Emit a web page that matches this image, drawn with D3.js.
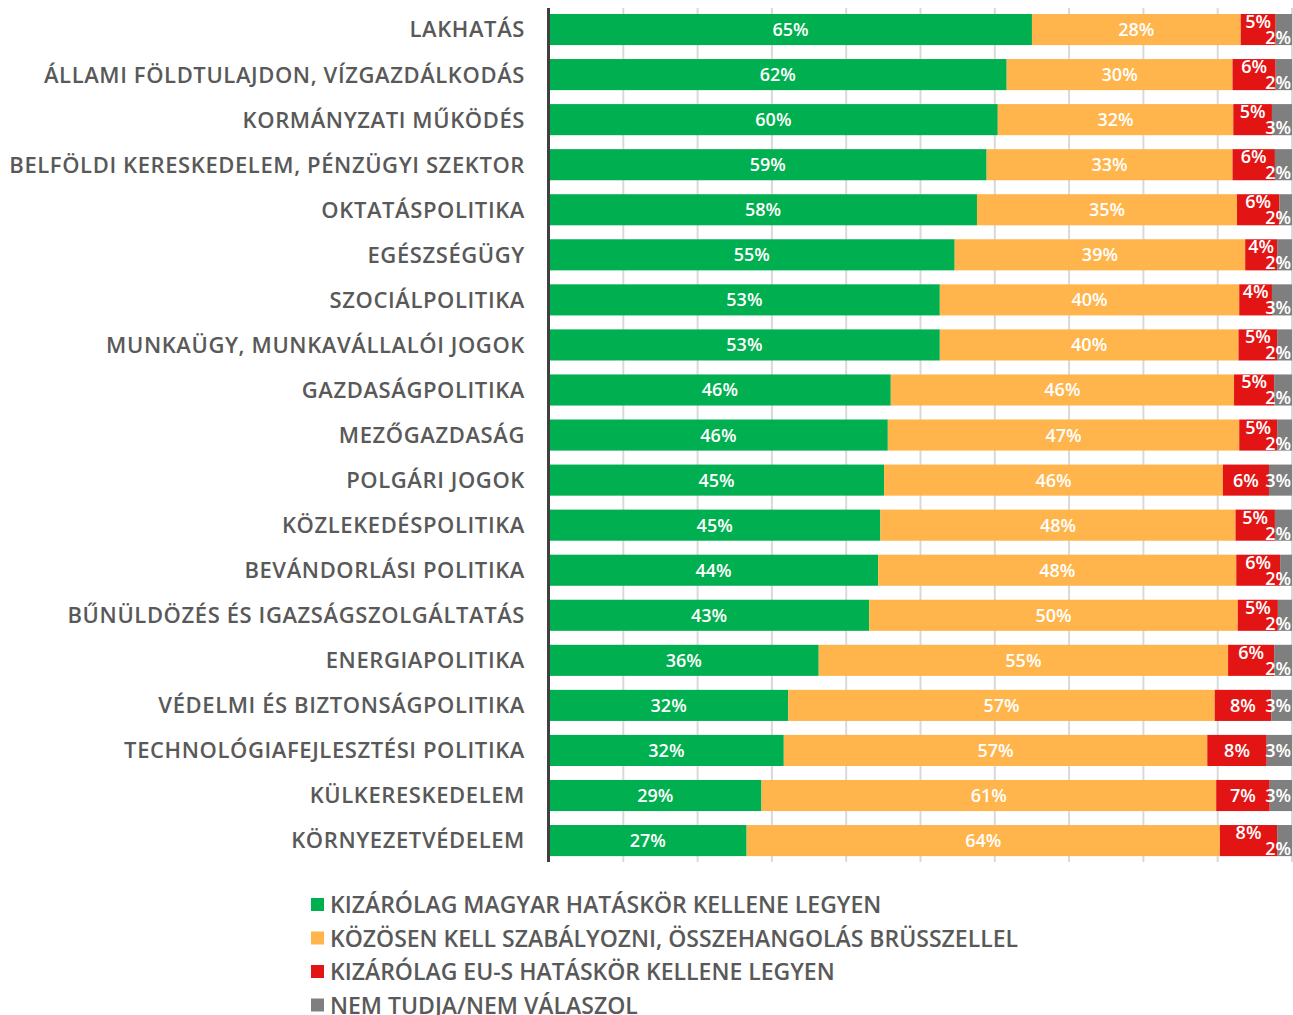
<!DOCTYPE html>
<html><head><meta charset="utf-8">
<script src="https://cdn.jsdelivr.net/npm/d3@7"></script>
<style>body{margin:0;background:#fff;}svg{display:block;font-family:"Open Sans",Roboto,sans-serif;}</style>
</head><body><svg id="c" width="1293" height="1015"></svg>
<script>
const categories = ["LAKHATÁS","ÁLLAMI FÖLDTULAJDON, VÍZGAZDÁLKODÁS","KORMÁNYZATI MŰKÖDÉS","BELFÖLDI KERESKEDELEM, PÉNZÜGYI SZEKTOR","OKTATÁSPOLITIKA","EGÉSZSÉGÜGY","SZOCIÁLPOLITIKA","MUNKAÜGY, MUNKAVÁLLALÓI JOGOK","GAZDASÁGPOLITIKA","MEZŐGAZDASÁG","POLGÁRI JOGOK","KÖZLEKEDÉSPOLITIKA","BEVÁNDORLÁSI POLITIKA","BŰNÜLDÖZÉS ÉS IGAZSÁGSZOLGÁLTATÁS","ENERGIAPOLITIKA","VÉDELMI ÉS BIZTONSÁGPOLITIKA","TECHNOLÓGIAFEJLESZTÉSI POLITIKA","KÜLKERESKEDELEM","KÖRNYEZETVÉDELEM"];
const magyar = [65.0,61.6,60.4,58.9,57.6,54.6,52.6,52.6,46.0,45.6,45.1,44.6,44.3,43.1,36.3,32.2,31.6,28.6,26.6];
const kozos  = [28.1,30.4,31.7,33.1,35.0,39.1,40.3,40.2,46.2,47.3,45.6,47.8,48.2,49.6,55.1,57.4,57.0,61.2,63.7];
const eus    = [4.7,5.8,5.2,5.7,5.7,4.3,4.4,5.2,5.4,5.1,6.2,5.3,5.9,5.4,6.2,7.6,8.0,7.2,7.7];
const nemtud = [2.2,2.2,2.7,2.3,1.7,2.0,2.7,2.0,2.4,2.0,3.1,2.3,1.6,1.9,2.4,2.8,3.4,3.0,2.0];
const seriesNames = ["KIZÁRÓLAG MAGYAR HATÁSKÖR KELLENE LEGYEN","KÖZÖSEN KELL SZABÁLYOZNI, ÖSSZEHANGOLÁS BRÜSSZELLEL","KIZÁRÓLAG EU-S HATÁSKÖR KELLENE LEGYEN","NEM TUDJA/NEM VÁLASZOL"];
const tickValues = [10,20,30,40,50,60,70,80,90,100];

const colors = ["#00af4f","#ffb54b","#e21414","#7f7f7f"];
const keys = ["m","k","e","n"];
const rows = categories.map((c,i)=>({cat:c,m:magyar[i],k:kozos[i],e:eus[i],n:nemtud[i]}));
const stack = d3.stack().keys(keys)(rows);

const svg = d3.select("#c");
const x = d3.scaleLinear().domain([0,100]).range([549,1292]);
const y = d3.scaleBand().domain(categories).range([7,863.1]).paddingInner(0.31).paddingOuter(0.155);

svg.append("g").selectAll("line").data(tickValues).join("line")
  .attr("x1",d=>x(d)).attr("x2",d=>x(d)).attr("y1",8).attr("y2",862)
  .attr("stroke","#d9d9d9").attr("stroke-width",2);

stack.forEach((s,si)=>{
  svg.append("g").attr("fill",colors[si]).selectAll("rect").data(s).join("rect")
    .attr("x",d=>x(d[0])).attr("width",d=>x(d[1])-x(d[0]))
    .attr("y",d=>y(d.data.cat)).attr("height",y.bandwidth());
});

svg.append("line").attr("x1",548.5).attr("x2",548.5).attr("y1",8).attr("y2",862)
  .attr("stroke","#404040").attr("stroke-width",3);

svg.append("g").selectAll("text").data(categories).join("text")
  .attr("x",525).attr("y",d=>y(d)+y.bandwidth()/2).attr("dy","0.36em")
  .attr("text-anchor","end").attr("fill","#595959").attr("font-size",22).attr("font-weight",600)
  .attr("letter-spacing","0.6px")
  .text(d=>d);

const lab = svg.append("g").attr("fill","#fff").attr("font-size",18).attr("font-weight",600);
rows.forEach((r,i)=>{
  const cy = y(r.cat)+y.bandwidth()/2;
  const centered = r.e>6.1 && r.n>2.7;
  const s = stack.map(st=>st[i]);
  [0,1].forEach(si=>{
    lab.append("text").attr("x",(x(s[si][0])+x(s[si][1]))/2).attr("y",cy).attr("dy","0.36em")
      .attr("text-anchor","middle").text(Math.round(s[si][1]-s[si][0])+"%");
  });
  lab.append("text").attr("x",(x(s[2][0])+x(s[2][1]))/2).attr("y",centered?cy:cy-8).attr("dy","0.36em")
    .attr("text-anchor","middle").text(Math.round(r.e)+"%");
  lab.append("text").attr("x",x(s[3][1])-1).attr("y",centered?cy:cy+8).attr("dy","0.36em")
    .attr("text-anchor","end").text(Math.round(r.n)+"%");
});

const lg = svg.append("g").selectAll("g").data(seriesNames).join("g")
  .attr("transform",(d,i)=>`translate(311,${905+i*33.5})`);
lg.append("rect").attr("x",0).attr("y",-7).attr("width",13).attr("height",13).attr("fill",(d,i)=>colors[i]);
lg.append("text").attr("x",19).attr("y",0).attr("dy","0.36em").attr("fill","#595959")
  .attr("font-size",23).attr("font-weight",600).text(d=>d);
</script></body></html>
